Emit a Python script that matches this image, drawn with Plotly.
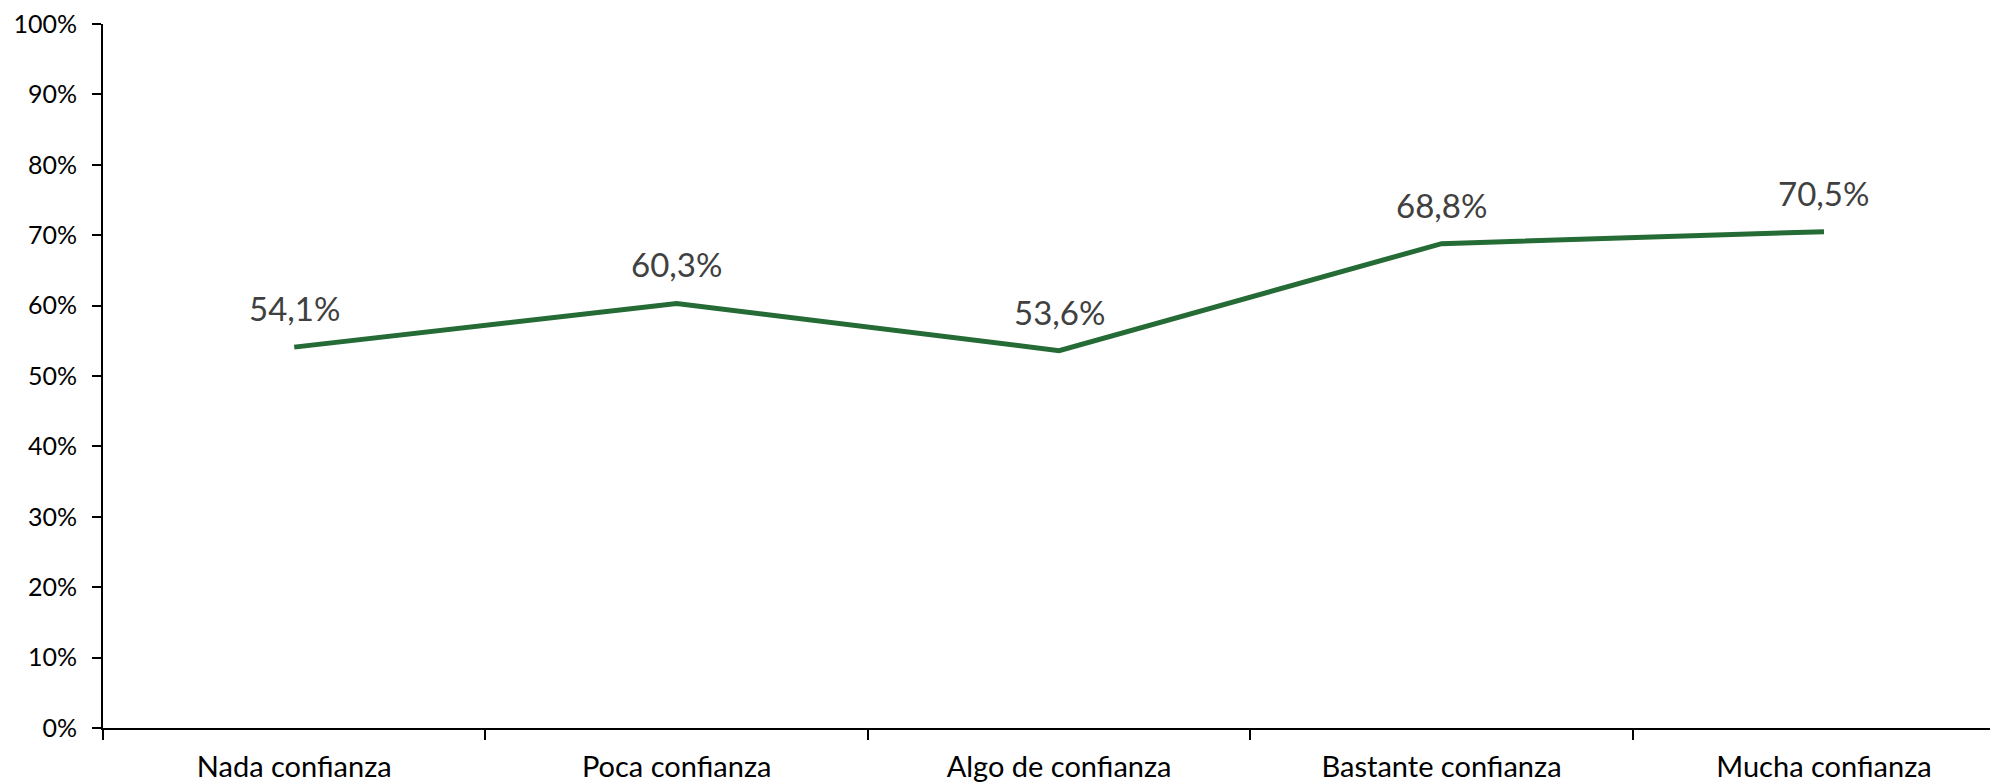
import plotly.graph_objects as go

categories = ["Nada confianza", "Poca confianza", "Algo de confianza", "Bastante confianza", "Mucha confianza"]
values = [54.1, 60.3, 53.6, 68.8, 70.5]
y_ticks = list(range(0, 101, 10))
y_tick_labels = [f"{v}%" for v in y_ticks]

labels = [f"{v:.1f}%".replace(".", ",") for v in values]

FONT = "Lato, 'Open Sans', sans-serif"

fig = go.Figure()
fig.add_trace(go.Scatter(
    x=categories, y=values, mode="lines",
    line=dict(color="#256b35", width=5),
    cliponaxis=False, showlegend=False, hoverinfo="skip",
))

for c, v, t in zip(categories, values, labels):
    fig.add_annotation(
        x=c, y=v, text=t, showarrow=False,
        xanchor="center", yanchor="bottom", yshift=17,
        font=dict(family=FONT, size=33, color="#404040"),
    )

fig.update_layout(
    width=1990, height=776,
    margin=dict(l=95, r=0, t=16, b=56),
    paper_bgcolor="white", plot_bgcolor="white",
    font=dict(family=FONT, color="black"),
    xaxis=dict(
        type="category", range=[-0.5, 4.455], automargin=False,
        showline=True, linecolor="black", linewidth=2,
        ticks="outside", tickson="boundaries", ticklen=10, tickwidth=2, tickcolor="black",
        showgrid=False, zeroline=False,
        tickfont=dict(family=FONT, size=29, color="black"),
        ticklabelstandoff=12, ticklabeloverflow="allow",
    ),
    yaxis=dict(
        range=[0, 100], tickvals=y_ticks, ticktext=y_tick_labels, automargin=False,
        showline=True, linecolor="black", linewidth=2,
        ticks="outside", ticklen=9, tickwidth=2, tickcolor="black",
        showgrid=False, zeroline=False,
        tickfont=dict(family=FONT, size=25, color="black"),
        ticklabelstandoff=10, ticklabeloverflow="allow",
    ),
)

fig.write_html("out.html")
